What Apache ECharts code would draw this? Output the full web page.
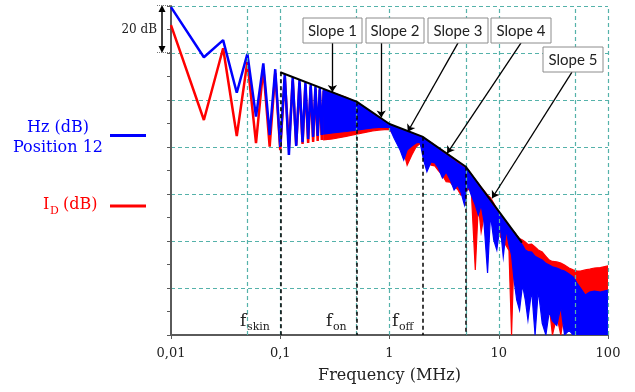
<!DOCTYPE html>
<html>
<head>
<meta charset="utf-8">
<script src="https://cdn.jsdelivr.net/npm/echarts@6/dist/echarts.min.js"></script>
<style>
  html, body { margin: 0; padding: 0; background: #fff; }
  #chart { width: 635px; height: 392px; }
</style>
</head>
<body>
<div id="chart"></div>
<script>
// low harmonics (MHz), odd ones high, even ones low
var harmFreq = [0.01, 0.02, 0.03, 0.04, 0.05, 0.06, 0.07, 0.08, 0.09, 0.10,
  0.11, 0.12, 0.13, 0.14, 0.15, 0.16, 0.17, 0.18, 0.19, 0.20,
  0.21, 0.22, 0.23, 0.24, 0.25];
var blueHarm = [139.5, 118.2, 125.5, 103.1, 119.6, 92.9, 115.6, 85.1, 113.1, 80.0,
  111.0, 76.6, 109.7, 80.4, 108.5, 82.1, 107.5, 83.4, 106.6, 84.3,
  105.8, 84.7, 105.1, 85.1, 104.3];
var redHarm = [131.9, 91.5, 122.0, 84.7, 116.3, 81.6, 113.6, 80.1, 111.5, 78.7,
  109.5, 80.0, 108.3, 80.9, 107.2, 81.3, 106.3, 81.7, 105.5, 82.1,
  104.8, 82.6, 104.2, 83.0, 103.8];

// dense part of the spectrum: upper / lower edge of each band (dB)
var bandFreq = [0.25, 0.3, 0.4, 0.5, 0.6, 0.7, 0.8, 0.9, 1.0, 1.1,
  1.25, 1.35, 1.45, 1.6, 1.75, 1.9, 2.05, 2.2, 2.4, 2.6,
  2.8, 3.05, 3.3, 3.6, 3.9, 4.2, 4.5, 4.85, 5.2, 5.6,
  6.1, 6.5, 6.9, 7.3, 7.9, 8.4, 9.0, 9.6, 10.3, 11,
  11.7, 12.4, 13.1, 13.8, 14.6, 15.5, 16.5, 17.5, 18.5, 20,
  21.5, 23, 25, 27, 29, 31, 34, 37, 40, 44,
  48, 52, 56, 62, 68, 75, 85, 100];
var blueTop = [104.3, 103.0, 100.9, 98.8, 96.3, 94.2, 92.4, 90.8, 89.4, 88.7,
  87.7, 87.1, 86.5, 85.7, 85.0, 84.3, 83.6, 82.6, 81.4, 80.2,
  79.0, 77.8, 76.7, 75.4, 74.3, 73.1, 72.2, 71.2, 70.2, 68.2,
  65.5, 63.5, 62.0, 60.5, 58.3, 56.5, 54.5, 52.8, 51.0, 49.2,
  47.5, 46.0, 44.5, 43.0, 41.5, 40.0, 38.3, 36.2, 35.5, 35.3,
  33.5, 32.8, 31.9, 30.5, 29.8, 29.0, 28.5, 27.7, 27.2, 26.0,
  24.7, 22.1, 20.0, 17.0, 18.3, 18.7, 18.3, 19.1];
var blueBottom = [85.5, 86.0, 86.6, 87.2, 87.7, 88.1, 88.3, 88.4, 88.2, 83.8,
  78.7, 74.5, 78.7, 80.4, 81.7, 82.1, 74.5, 69.5, 73.6, 73.2,
  71.1, 66.8, 69.4, 66.0, 61.7, 63.8, 60.9, 55.3, 63.8, 59.6,
  55.3, 51.1, 55.3, 48.9, 26.4, 51.1, 40.4, 36.2, 46.8, 33.2,
  44.7, 38.3, 34.0, 23.4, 14.9, 10.6, 21.3, 14.9, 6.4, 19.1,
  0, 19.1, 5.0, 0, 10.0, 6.0, 4.0, 12.0, 0, 2.0,
  0, 0, 0, 0, 0, 0, 0, 0];
var redTop = [104.0, 103.2, 101.1, 99.0, 96.6, 94.5, 92.7, 91.0, 89.6, 88.9,
  87.9, 87.3, 86.7, 86.0, 85.3, 84.6, 83.9, 83.0, 81.9, 80.7,
  79.7, 78.5, 77.4, 76.1, 75.0, 73.9, 72.9, 71.9, 70.5, 68.5,
  66.1, 64.4, 62.8, 61.5, 59.5, 58.5, 56.0, 53.5, 51.5, 49.7,
  48.0, 46.5, 45.0, 44.0, 42.5, 41.0, 40.4, 39.6, 38.5, 38.7,
  37.5, 36.2, 35.3, 33.5, 31.9, 31.3, 31.1, 30.6, 29.8, 28.5,
  27.7, 27.2, 27.2, 27.7, 28.0, 28.5, 28.7, 29.4];
var redBottom = [83.0, 83.4, 84.5, 85.5, 86.2, 86.8, 87.2, 87.4, 87.4, 85.0,
  82.0, 78.0, 72.3, 76.6, 80.0, 81.5, 78.0, 74.0, 72.3, 72.0,
  70.0, 68.0, 65.2, 65.0, 63.0, 62.0, 59.6, 60.0, 62.0, 61.7,
  27.7, 55.3, 43.8, 50.0, 48.0, 50.0, 45.0, 44.0, 42.0, 40.0,
  38.0, 36.0, 0, 35.0, 30.0, 32.0, 30.0, 28.0, 25.0, 20.0,
  22.0, 20.0, 18.0, 15.0, 12.0, 0, 8.0, 0, 10.0, 8.0,
  5.0, 0, 0, 0, 0, 0, 0, 0];

// piecewise envelope (slopes 1..5)
var slopeFreq = [0.1, 0.5, 1, 2, 5, 16.3];
var slopeDb = [111.8, 99.3, 89.8, 84.4, 71.6, 39.3];
// corner frequencies marked with dashed lines
var cornerFreq = [0.1, 0.5, 2, 5];
var cornerDb = [111.8, 99.3, 84.4, 71.6];
// slope callouts: arrow start (under the box) and arrow tip
var arrowFromFreq = [0.3, 0.84, 4.24, 16.0, 46.8];
var arrowFromDb = [124.3, 124.3, 124.3, 124.3, 111.9];
var arrowToFreq = [0.3, 0.84, 1.47, 3.37, 8.68];
var arrowToDb = [103.4, 92.6, 86.5, 77.3, 58.2];

var gridFreq = [0.05, 0.1, 0.5, 1, 5, 10, 50, 100];
var xTickLabels = ['0,01', '0,1', '1', '10', '100'];

var BLUE = '#0000ff', RED = '#ff0000', GRID = '#55b2aa', AXIS = '#5a5a5a';
var SERIF = '"DejaVu Serif", serif';

function pairs(xs, ys) {
  return xs.map(function (x, i) { return [x, ys[i]]; });
}

// filled band between the upper and lower edge
function band(top, bottom, color, z) {
  return {
    type: 'custom', z: z, silent: true, clip: true,
    data: [[bandFreq[0], top[0]]],
    renderItem: function (params, api) {
      var pts = [];
      for (var i = 0; i < bandFreq.length; i++) pts.push(api.coord([bandFreq[i], top[i]]));
      for (var j = bandFreq.length - 1; j >= 0; j--) pts.push(api.coord([bandFreq[j], bottom[j]]));
      return {
        type: 'polygon',
        shape: { points: pts },
        style: { fill: color, stroke: color, lineWidth: 1.2 }
      };
    }
  };
}

var chart = echarts.init(document.getElementById('chart'));

var arrowLines = arrowFromFreq.map(function (f, i) {
  return [{ coord: [f, arrowFromDb[i]] }, { coord: [arrowToFreq[i], arrowToDb[i]] }];
});
var cornerLines = cornerFreq.map(function (f, i) {
  return [{ coord: [f, cornerDb[i]] }, { coord: [f, 0] }];
});

var series = [
  {
    // vertical dashed grid lines
    type: 'line', data: [], z: 1, silent: true,
    markLine: {
      silent: true, symbol: ['none', 'none'], label: { show: false },
      lineStyle: { color: GRID, type: [4, 3], width: 1.2 },
      data: gridFreq.map(function (f) { return { xAxis: f }; })
    }
  },
  {
    type: 'line', z: 2, symbol: 'none', silent: true,
    data: pairs(harmFreq, redHarm),
    lineStyle: { color: RED, width: 2.5 }
  },
  band(redTop, redBottom, RED, 2),
  {
    type: 'line', z: 3, symbol: 'none', silent: true,
    data: pairs(harmFreq, blueHarm),
    lineStyle: { color: BLUE, width: 2.5 }
  },
  band(blueTop, blueBottom, BLUE, 3),
  {
    type: 'line', z: 5, symbol: 'none', silent: true,
    data: pairs(slopeFreq, slopeDb),
    lineStyle: { color: '#000', width: 2 },
    markLine: {
      silent: true, symbol: ['none', 'none'], label: { show: false },
      lineStyle: { color: '#000', type: [4, 3], width: 1.5 },
      data: cornerLines
    }
  },
  {
    type: 'line', data: [], z: 6, silent: true,
    markLine: {
      silent: true, symbol: ['none', 'arrow'], symbolSize: 7,
      label: { show: false },
      lineStyle: { color: '#000', type: 'solid', width: 1.3 },
      data: arrowLines
    }
  }
];

var slopeBoxes = [
  { text: 'Slope 1', x: 303, y: 18, w: 59 },
  { text: 'Slope 2', x: 366, y: 18, w: 58 },
  { text: 'Slope 3', x: 428, y: 18, w: 60 },
  { text: 'Slope 4', x: 491, y: 18, w: 60 },
  { text: 'Slope 5', x: 543, y: 47, w: 60 }
];

var graphic = [];
slopeBoxes.forEach(function (b) {
  graphic.push({
    type: 'rect', z: 100,
    shape: { x: b.x, y: b.y, width: b.w, height: 25 },
    style: { fill: '#fff', stroke: '#8c8c8c', lineWidth: 1 }
  });
  graphic.push({
    type: 'text', z: 101, x: b.x + b.w / 2, y: b.y + 13,
    style: { text: b.text, font: '15px Lato', fill: '#222', align: 'center', verticalAlign: 'middle' }
  });
});

// "20 dB" scale marker
graphic.push(
  { type: 'line', z: 100, shape: { x1: 162, y1: 8, x2: 162, y2: 50 }, style: { stroke: '#000', lineWidth: 1.5 } },
  { type: 'polygon', z: 100, shape: { points: [[162, 5], [158.5, 12], [165.5, 12]] }, style: { fill: '#000' } },
  { type: 'polygon', z: 100, shape: { points: [[162, 53], [158.5, 46], [165.5, 46]] }, style: { fill: '#000' } },
  { type: 'line', z: 100, shape: { x1: 157, y1: 5.5, x2: 171, y2: 5.5 }, style: { stroke: '#777', lineWidth: 1, lineDash: [1, 1] } },
  { type: 'line', z: 100, shape: { x1: 157, y1: 52.5, x2: 171, y2: 52.5 }, style: { stroke: '#777', lineWidth: 1, lineDash: [1, 1] } },
  { type: 'text', z: 100, x: 157, y: 30, style: { text: '20 dB', font: '12px ' + SERIF, fill: '#222', align: 'right', verticalAlign: 'middle' } }
);

// legend, on the left
graphic.push(
  { type: 'text', x: 58, y: 128, style: { text: 'Hz (dB)', font: '16px ' + SERIF, fill: BLUE, align: 'center', verticalAlign: 'middle' } },
  { type: 'text', x: 58, y: 148, style: { text: 'Position 12', font: '16px ' + SERIF, fill: BLUE, align: 'center', verticalAlign: 'middle' } },
  { type: 'line', shape: { x1: 110, y1: 135.5, x2: 146, y2: 135.5 }, style: { stroke: BLUE, lineWidth: 3 } },
  { type: 'text', x: 43, y: 205, style: { text: 'I', font: '16px ' + SERIF, fill: RED, align: 'left', verticalAlign: 'middle' } },
  { type: 'text', x: 50, y: 211, style: { text: 'D', font: '11px ' + SERIF, fill: RED, align: 'left', verticalAlign: 'middle' } },
  { type: 'text', x: 63, y: 205, style: { text: '(dB)', font: '16px ' + SERIF, fill: RED, align: 'left', verticalAlign: 'middle' } },
  { type: 'line', shape: { x1: 110, y1: 206, x2: 146, y2: 206 }, style: { stroke: RED, lineWidth: 3 } }
);

// corner frequency names
[['skin', 240], ['on', 326], ['off', 392]].forEach(function (p) {
  graphic.push(
    { type: 'text', z: 100, x: p[1], y: 322, style: { text: 'f', font: '17px ' + SERIF, fill: '#222', align: 'left', verticalAlign: 'middle' } },
    { type: 'text', z: 100, x: p[1] + 7, y: 327, style: { text: p[0], font: '11px ' + SERIF, fill: '#222', align: 'left', verticalAlign: 'middle' } }
  );
});

chart.setOption({
  animation: false,
  backgroundColor: '#fff',
  grid: { left: 171, right: 27, top: 6, bottom: 57 },
  xAxis: {
    type: 'log', logBase: 10, min: 0.01, max: 100,
    name: 'Frequency (MHz)', nameLocation: 'middle', nameGap: 33,
    nameTextStyle: { fontFamily: 'DejaVu Serif', fontSize: 16, color: '#222' },
    axisLine: { lineStyle: { color: AXIS, width: 2 } },
    axisTick: { show: true, length: 4, lineStyle: { color: AXIS } },
    splitLine: { show: false },
    axisLabel: {
      fontFamily: 'DejaVu Serif', fontSize: 13, color: '#222', margin: 12,
      formatter: function (v) { return xTickLabels[Math.round(Math.log10(v)) + 2]; }
    }
  },
  yAxis: {
    type: 'value', min: 0, max: 140, interval: 20,
    axisLine: { show: true, lineStyle: { color: AXIS, width: 2 } },
    axisTick: { show: true, length: 4, lineStyle: { color: AXIS } },
    minorTick: { show: true, splitNumber: 2, length: 4, lineStyle: { color: AXIS } },
    axisLabel: { show: false },
    splitLine: { show: true, lineStyle: { color: GRID, type: [4, 3], width: 1.2 } }
  },
  series: series,
  graphic: graphic
});
</script>
</body>
</html>
